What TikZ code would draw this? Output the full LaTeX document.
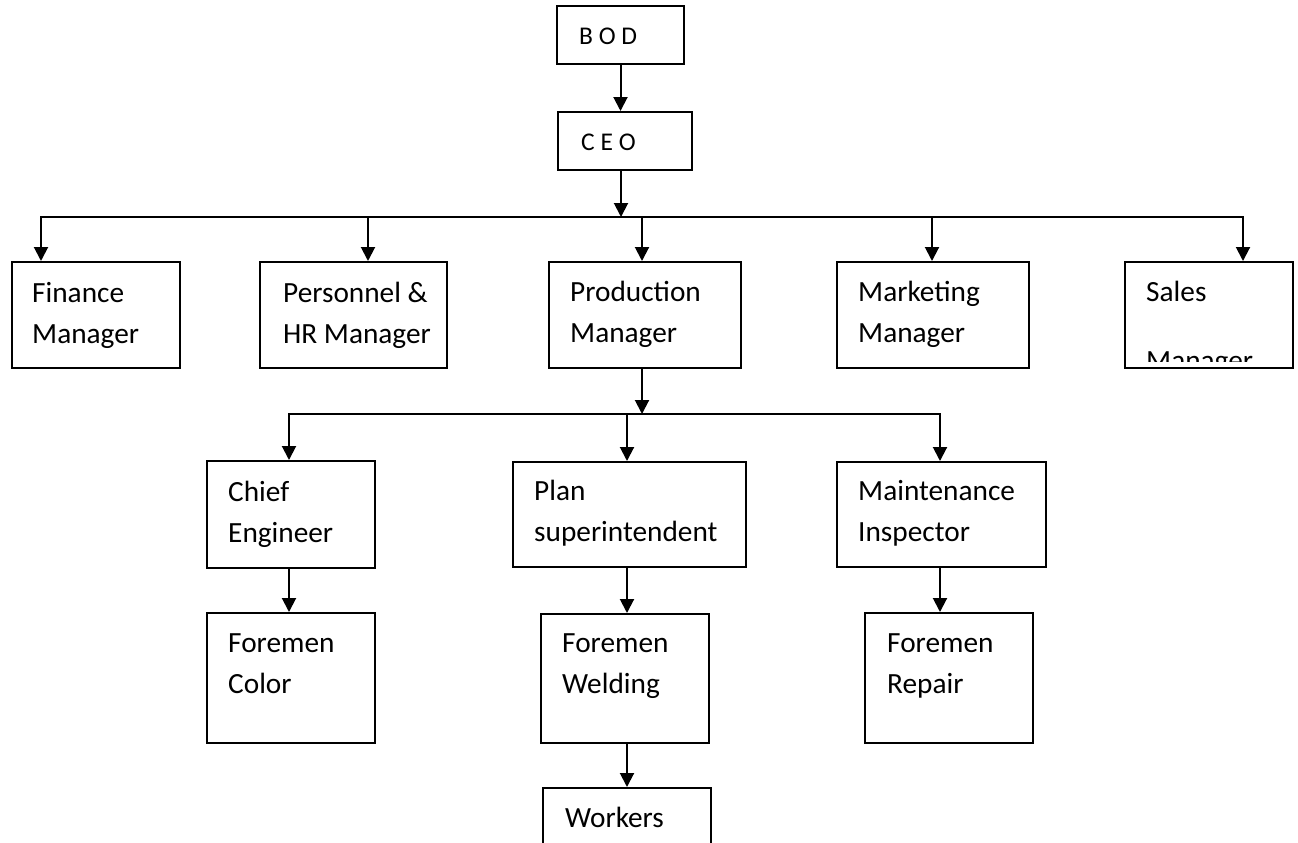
\documentclass[tikz,border=0pt]{standalone}
\usepackage{fontspec}
\setmainfont{Carlito}
\usetikzlibrary{arrows.meta}
\tikzset{box/.style={draw, line width=2pt, inner sep=0pt}}
\tikzset{txt/.style={anchor=base west, align=flush left, inner sep=0pt, text width=260pt, font=\fontsize{29.3}{41.5}\selectfont}}
\tikzset{toptxt/.style={anchor=base west, inner sep=0pt, font=\fontsize{25.5}{30}\selectfont}}
\tikzset{edge/.style={line width=2pt, line cap=rect}}
\tikzset{arc/.style={line width=2pt, -{Triangle[width=14pt,length=14pt]}}}
\begin{document}
\begin{tikzpicture}[x=1pt,y=-1pt]
\useasboundingbox (0,0) rectangle (1298,843);
% top of the chart
\node (bod) at (620.5,35)[box, minimum width=127pt, minimum height=58pt]{};
\node (ceo) at (625,141)[box, minimum width=134pt, minimum height=58pt]{};
\node (bod-t) at (579,45)[toptxt]{B O D};
\node (ceo-t) at (581,150)[toptxt]{C E O};
% managers
\node (fin) at (96,315)[box, minimum width=168pt, minimum height=106pt]{};
\node (hr) at (353.5,315)[box, minimum width=187pt, minimum height=106pt]{};
\node (prod) at (645,315)[box, minimum width=192pt, minimum height=106pt]{};
\node (mkt) at (933,315)[box, minimum width=192pt, minimum height=106pt]{};
\node (sales) at (1209,315)[box, minimum width=168pt, minimum height=106pt]{};
\node (fin-t) at (32,302)[txt]{Finance\\Manager};
\node (hr-t) at (283,302)[txt]{Personnel \&\\HR Manager};
\node (prod-t) at (570,301)[txt]{Production\\Manager};
\node (mkt-t) at (858,301)[txt]{Marketing\\Manager};
\begin{scope}
\clip (1127,264) rectangle (1291,361);
\node (sales-t) at (1146,301)[txt]{Sales\\[27.5pt]Manager};
\end{scope}
% under production
\node (chief) at (291,514.5)[box, minimum width=168pt, minimum height=107pt]{};
\node (plan) at (629.5,514.5)[box, minimum width=233pt, minimum height=105pt]{};
\node (maint) at (941.5,514.5)[box, minimum width=209pt, minimum height=105pt]{};
\node (chief-t) at (228,501)[txt]{Chief\\Engineer};
\node (plan-t) at (534,500)[txt]{Plan\\superintendent};
\node (maint-t) at (858,500)[txt]{Maintenance\\Inspector};
\node (color) at (291,678)[box, minimum width=168pt, minimum height=130pt]{};
\node (weld) at (625,678.5)[box, minimum width=168pt, minimum height=129pt]{};
\node (repair) at (949,678)[box, minimum width=168pt, minimum height=130pt]{};
\node (work) at (627,844)[box, minimum width=168pt, minimum height=112pt]{};
\node (color-t) at (228,652)[txt]{Foremen\\Color};
\node (weld-t) at (562,652)[txt]{Foremen\\Welding};
\node (repair-t) at (887,652)[txt]{Foremen\\Repair};
\node (work-t) at (565,827)[txt]{Workers};
% connectors
\coordinate (bus-ceo) at (621,217);
\coordinate (bus-fin) at (41,217);
\coordinate (bus-hr) at (368,217);
\coordinate (bus-prod) at (642,217);
\coordinate (bus-mkt) at (932,217);
\coordinate (bus-sales) at (1243,217);
\draw[arc] (bod) -- (bod |- ceo.north);
\draw[arc] (ceo.south -| bus-ceo) -- (bus-ceo);
\draw[edge] (bus-fin) -- (bus-sales);
\draw[arc] (bus-fin) -- (bus-fin |- fin.north);
\draw[arc] (bus-hr) -- (bus-hr |- hr.north);
\draw[arc] (bus-prod) -- (bus-prod |- prod.north);
\draw[arc] (bus-mkt) -- (bus-mkt |- mkt.north);
\draw[arc] (bus-sales) -- (bus-sales |- sales.north);
\coordinate (bus2-prod) at (642,414);
\coordinate (bus2-chief) at (289,414);
\coordinate (bus2-plan) at (627,414);
\coordinate (bus2-maint) at (940,414);
\draw[arc] (prod.south -| bus2-prod) -- (bus2-prod);
\draw[edge] (bus2-chief) -- (bus2-maint);
\draw[arc] (bus2-chief) -- (bus2-chief |- chief.north);
\draw[arc] (bus2-plan) -- (bus2-plan |- plan.north);
\draw[arc] (bus2-maint) -- (bus2-maint |- maint.north);
\draw[arc] (chief.south -| bus2-chief) -- (bus2-chief |- color.north);
\draw[arc] (plan.south -| bus2-plan) -- (bus2-plan |- weld.north);
\draw[arc] (maint.south -| bus2-maint) -- (bus2-maint |- repair.north);
\draw[arc] (weld.south -| bus2-plan) -- (bus2-plan |- work.north);
\end{tikzpicture}
\end{document}
